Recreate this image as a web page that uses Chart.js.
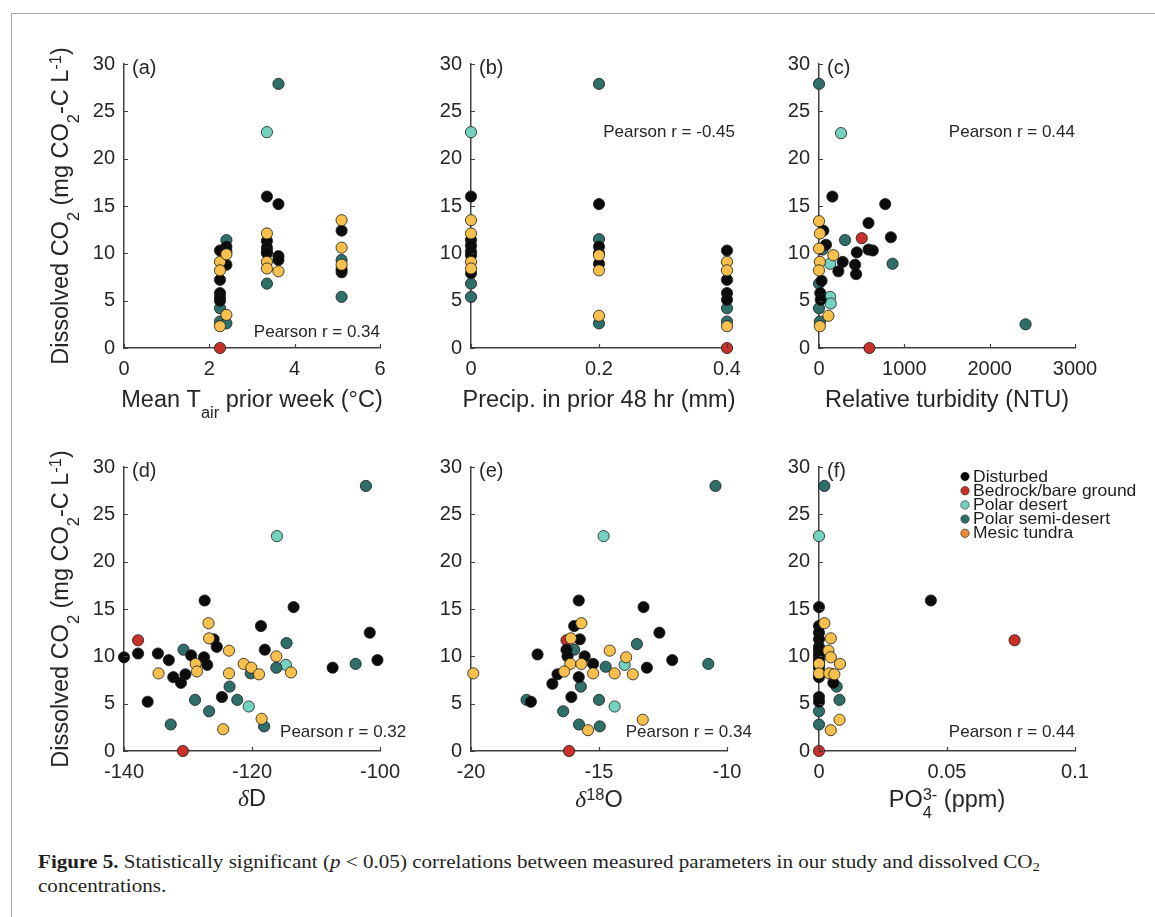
<!DOCTYPE html>
<html>
<head>
<meta charset="utf-8">
<script src="https://cdn.jsdelivr.net/npm/chart.js@4.4.1/dist/chart.umd.min.js"></script>
<style>
  html, body { margin: 0; padding: 0; background: #ffffff; }
  body { width: 1155px; height: 917px; position: relative; overflow: hidden; }
  #frame { position: absolute; left: 11px; top: 13px; width: 1150px; height: 910px;
           border-left: 1.5px solid #a8a8a8; border-top: 1.5px solid #a8a8a8; }
  canvas { position: absolute; }
  #caption { position: absolute; left: 38px; top: 850px; font-family: "Liberation Serif", "Times New Roman", serif;
             font-size: 18px; line-height: 24px; color: #231f20; white-space: nowrap; transform-origin: 0 0; }
  #caption sub { font-size: 0.7em; vertical-align: -0.25em; line-height: 0; }
</style>
</head>
<body>
<div id="frame"></div>
<div id="caption"><span id="cap1"><b>Figure 5.</b> Statistically significant (<i>p</i> &lt; 0.05) correlations between measured parameters in our study and dissolved CO<sub>2</sub></span><br><span>concentrations.</span></div>
<script>
// ---------------- DATA ----------------
const CATEGORIES = ['Disturbed', 'Bedrock/bare ground', 'Polar desert', 'Polar semi-desert', 'Mesic tundra'];
const Y_TICKS = [0, 5, 10, 15, 20, 25, 30];
const TAIR_TICKS = [0, 2, 4, 6];
const PRECIP_TICKS = [0, 0.2, 0.4];
const TURB_TICKS = [0, 1000, 2000, 3000];
const DD_TICKS = [-140, -120, -100];
const D18_TICKS = [-20, -15, -10];
const PO4_TICKS = [0, 0.05, 0.1];
const PEARSON_R = ['0.34', '-0.45', '0.44', '0.32', '0.34', '0.44'];

// (a) Mean air temperature prior week (°C) vs dissolved CO2
const tairDisturbed = [[2.25,10.3],[2.25,7.2],[2.25,5.8],[2.25,5.3],[2.25,5.0],[2.4,10.7],[2.4,10.2],[2.4,8.8],[3.35,16.0],[3.35,11.3],[3.35,10.6],[3.35,10.2],[3.35,10.0],[3.62,15.2],[3.62,9.7],[3.62,9.3],[5.1,12.4],[5.1,8.0],[5.1,8.3]];
const tairBedrock = [[2.25,0]];
const tairPolarDesert = [[3.35,22.8]];
const tairSemiDesert = [[2.4,11.4],[2.25,4.2],[2.25,2.8],[2.4,2.6],[3.35,6.8],[3.62,27.9],[5.1,9.3],[5.1,5.4]];
const tairMesic = [[2.25,9.1],[2.25,8.2],[2.25,2.3],[2.4,9.9],[2.4,3.5],[3.35,12.1],[3.35,9.1],[3.35,8.4],[3.62,8.1],[5.1,13.5],[5.1,10.6],[5.1,8.8]];

// (b) Precipitation in prior 48 hr (mm)
const precipDisturbed = [[0,16.0],[0,11.4],[0,10.8],[0,10.2],[0,9.8],[0,7.9],[0.2,15.2],[0.2,10.7],[0.2,10.0],[0.2,8.9],[0.4,10.3],[0.4,7.2],[0.4,5.8],[0.4,5.1]];
const precipBedrock = [[0.4,0]];
const precipPolarDesert = [[0,22.8]];
const precipSemiDesert = [[0,6.8],[0,5.4],[0.2,27.9],[0.2,11.5],[0.2,2.6],[0.4,4.2],[0.4,2.8]];
const precipMesic = [[0,13.5],[0,12.1],[0,9.1],[0,8.4],[0.2,9.8],[0.2,8.2],[0.2,3.4],[0.4,9.1],[0.4,8.2],[0.4,2.3]];

// (c) Relative turbidity (NTU)
const turbDisturbed = [[157,16.0],[776,15.2],[580,13.2],[842,11.7],[51,12.4],[82,10.9],[443,10.1],[580,10.4],[630,10.3],[278,9.1],[227,8.1],[423,8.8],[435,7.8],[30,7.1],[15,5.8],[20,5.1]];
const turbBedrock = [[501,11.6],[591,0]];
const turbPolarDesert = [[258,22.7],[130,8.9],[130,5.4],[137,4.7]];
const turbSemiDesert = [[0,27.9],[305,11.4],[862,8.9],[2421,2.5],[40,10.4],[0,6.8],[0,4.2],[10,2.8]];
const turbMesic = [[0,13.4],[10,12.1],[0,10.5],[168,9.8],[10,9.1],[0,8.2],[110,3.4],[10,2.3]];

// (d) δD
const dDDisturbed = [[-127.4,15.9],[-113.5,15.2],[-118.6,13.2],[-101.6,12.5],[-126.0,11.8],[-125.5,11.0],[-118.0,10.7],[-140,9.9],[-137.8,10.3],[-134.7,10.3],[-133.0,9.6],[-129.5,10.1],[-127.5,9.9],[-127.0,9.1],[-107.4,8.8],[-100.4,9.6],[-132.3,7.8],[-131.1,7.2],[-130.4,8.1],[-136.3,5.2],[-124.7,5.7]];
const dDBedrock = [[-137.8,11.7],[-130.8,0]];
const dDPolarDesert = [[-116.1,22.7],[-114.7,9.1],[-120.5,4.7]];
const dDSemiDesert = [[-102.2,28.0],[-114.6,11.4],[-130.7,10.7],[-120.2,8.2],[-116.2,8.8],[-103.8,9.2],[-128.9,5.4],[-126.7,4.2],[-123.5,6.8],[-122.3,5.4],[-132.7,2.8],[-118.1,2.6]];
const dDMesic = [[-126.8,13.5],[-126.7,11.9],[-123.6,10.6],[-128.8,9.2],[-128.6,8.4],[-121.3,9.2],[-120.1,8.8],[-118.9,8.1],[-116.2,10.0],[-113.9,8.3],[-134.6,8.2],[-124.5,2.3],[-118.5,3.4],[-123.6,8.2]];

// (e) δ18O
const d18Disturbed = [[-15.79,15.9],[-13.26,15.2],[-15.97,13.2],[-12.64,12.5],[-15.75,11.8],[-17.4,10.2],[-16.27,10.7],[-16.23,10.0],[-15.56,10.0],[-12.14,9.6],[-15.23,9.2],[-13.13,8.8],[-16.62,8.1],[-15.79,7.8],[-16.82,7.1],[-16.08,5.7],[-17.66,5.2]];
const d18Bedrock = [[-16.27,11.7],[-16.17,0]];
const d18PolarDesert = [[-14.82,22.7],[-14.0,9.1],[-14.39,4.7]];
const d18SemiDesert = [[-10.45,28.0],[-13.52,11.3],[-15.97,10.7],[-10.73,9.2],[-14.74,8.9],[-15.71,6.8],[-17.83,5.4],[-15.0,5.4],[-16.4,4.2],[-15.78,2.8],[-14.97,2.6]];
const d18Mesic = [[-15.69,13.5],[-16.1,11.9],[-14.58,10.6],[-13.94,9.9],[-16.12,9.2],[-15.69,9.2],[-16.36,8.4],[-15.23,8.2],[-14.39,8.2],[-13.68,8.1],[-19.91,8.2],[-13.29,3.3],[-15.43,2.2]];

// (f) PO4 3- (ppm)
const po4Disturbed = [[0,15.2],[0.0437,15.9],[0,13.2],[0,12.5],[0,11.8],[0,11.0],[0,10.7],[0,10.3],[0,10.0],[0,9.6],[0,9.2],[0,8.8],[0,7.8],[0,5.7],[0,5.2],[0.0056,7.2],[0.0052,8.1]];
const po4Bedrock = [[0.0764,11.7],[0,0]];
const po4PolarDesert = [[0,22.7]];
const po4SemiDesert = [[0.0021,28.0],[0.0069,6.8],[0.008,5.4],[0,4.2],[0,2.8]];
const po4Mesic = [[0.0021,13.5],[0.0046,11.9],[0.0037,10.6],[0.0046,9.9],[0,9.2],[0,8.2],[0.0082,9.2],[0.004,8.2],[0.006,8.1],[0.008,3.3],[0.0046,2.2]];

// ---------------- STYLE ----------------
const FONT = '"Liberation Sans", Arial, Helvetica, sans-serif';
const SERIF = '"Liberation Serif", "Times New Roman", serif';
const TEXT = '#262626';
const AXIS = '#404040';
const STYLE = {
  'Disturbed':           { fill: '#0b0b0b', legend: '#000000' },
  'Bedrock/bare ground': { fill: '#c8312a', legend: '#c8312a' },
  'Polar desert':        { fill: '#74d3c0', legend: '#74d3c0' },
  'Polar semi-desert':   { fill: '#2e6f6a', legend: '#2e6f6a' },
  'Mesic tundra':        { fill: '#f7bf4c', legend: '#ee8838' }
};
const DRAW_ORDER = ['Mesic tundra', 'Disturbed', 'Polar semi-desert', 'Polar desert', 'Bedrock/bare ground'];

const Y_TITLE = [{t:'Dissolved CO'},{t:'2',sub:1},{t:' (mg CO'},{t:'2',sub:1},{t:'-C L'},{t:'-1',sup:1},{t:')'}];

const PANELS = [
  { tag:'(a)', plotLeft:124, plotTop:64, xMin:0, xMax:6, xTicks:TAIR_TICKS,
    series:{'Disturbed':tairDisturbed,'Bedrock/bare ground':tairBedrock,'Polar desert':tairPolarDesert,'Polar semi-desert':tairSemiDesert,'Mesic tundra':tairMesic},
    pearson:{x:6, y:1.7, r:PEARSON_R[0]}, yTitle:true, titleDrop:59,
    xTitle:[{t:'Mean T'},{t:'air',sub:1},{t:' prior week (°C)'}] },
  { tag:'(b)', plotLeft:471, plotTop:64, xMin:0, xMax:0.4, xTicks:PRECIP_TICKS,
    series:{'Disturbed':precipDisturbed,'Bedrock/bare ground':precipBedrock,'Polar desert':precipPolarDesert,'Polar semi-desert':precipSemiDesert,'Mesic tundra':precipMesic},
    pearson:{x:0.4125, y:22.8, r:PEARSON_R[1]}, yTitle:false, titleDrop:59,
    xTitle:[{t:'Precip. in prior 48 hr (mm)'}] },
  { tag:'(c)', plotLeft:819, plotTop:64, xMin:0, xMax:3000, xTicks:TURB_TICKS,
    series:{'Disturbed':turbDisturbed,'Bedrock/bare ground':turbBedrock,'Polar desert':turbPolarDesert,'Polar semi-desert':turbSemiDesert,'Mesic tundra':turbMesic},
    pearson:{x:3000, y:22.8, r:PEARSON_R[2]}, yTitle:false, titleDrop:59,
    xTitle:[{t:'Relative turbidity (NTU)'}] },
  { tag:'(d)', plotLeft:124, plotTop:467, xMin:-140, xMax:-100, xTicks:DD_TICKS,
    series:{'Disturbed':dDDisturbed,'Bedrock/bare ground':dDBedrock,'Polar desert':dDPolarDesert,'Polar semi-desert':dDSemiDesert,'Mesic tundra':dDMesic},
    pearson:{x:-95.9, y:2.0, r:PEARSON_R[3]}, yTitle:true, titleDrop:55,
    xTitle:[{t:'δ',it:1,serif:1},{t:'D'}] },
  { tag:'(e)', plotLeft:471, plotTop:467, xMin:-20, xMax:-10, xTicks:D18_TICKS,
    series:{'Disturbed':d18Disturbed,'Bedrock/bare ground':d18Bedrock,'Polar desert':d18PolarDesert,'Polar semi-desert':d18SemiDesert,'Mesic tundra':d18Mesic},
    pearson:{x:-9.03, y:2.0, r:PEARSON_R[4]}, yTitle:false, titleDrop:56,
    xTitle:[{t:'δ',it:1,serif:1},{t:'18',sup:1},{t:'O'}] },
  { tag:'(f)', plotLeft:819, plotTop:467, xMin:0, xMax:0.1, xTicks:PO4_TICKS,
    series:{'Disturbed':po4Disturbed,'Bedrock/bare ground':po4Bedrock,'Polar desert':po4PolarDesert,'Polar semi-desert':po4SemiDesert,'Mesic tundra':po4Mesic},
    pearson:{x:0.1, y:2.0, r:PEARSON_R[5]}, yTitle:false, titleDrop:56, legend:true,
    xTitle:[{t:'PO'},{stack:['4','3-']},{t:' (ppm)'}] }
];

const PAD_L = 52, Y_W = 60, PLOT_W = 256, PAD_R = 90, PAD_T = 50, PLOT_H = 284, X_H = 76;
const CANVAS_W = PAD_L + Y_W + PLOT_W + PAD_R;
const CANVAS_H = PAD_T + PLOT_H + X_H;

// ---------------- RICH TEXT ----------------
function segFont(seg, size, small) {
  const s = small ? size * 0.7 : size;
  return (seg.it ? 'italic ' : '') + s + 'px ' + (seg.serif ? SERIF : FONT);
}
function segWidth(ctx, seg, size) {
  if (seg.stack) {
    ctx.font = segFont({}, size, true);
    return Math.max(ctx.measureText(seg.stack[0]).width, ctx.measureText(seg.stack[1]).width);
  }
  ctx.font = segFont(seg, size, seg.sub || seg.sup);
  return ctx.measureText(seg.t).width;
}
function drawRich(ctx, segs, cx, baseY, size, color) {
  const widths = segs.map(s => segWidth(ctx, s, size));
  const total = widths.reduce((a, b) => a + b, 0);
  let x = cx - total / 2;
  ctx.fillStyle = color;
  ctx.textAlign = 'left';
  ctx.textBaseline = 'alphabetic';
  const subDy = size * 0.45, supDy = -size * 0.3;
  segs.forEach((s, i) => {
    if (s.stack) {
      ctx.font = segFont({}, size, true);
      ctx.fillText(s.stack[0], x, baseY + subDy);
      ctx.fillText(s.stack[1], x, baseY + supDy);
    } else {
      ctx.font = segFont(s, size, s.sub || s.sup);
      ctx.fillText(s.t, x, baseY + (s.sub ? subDy : s.sup ? supDy : 0));
    }
    x += widths[i];
  });
}

// ---------------- DECOR PLUGIN ----------------
const decorPlugin = {
  id: 'decor',
  afterDraw(chart, args, o) {
    const ctx = chart.ctx;
    const area = chart.chartArea;
    const xs = chart.scales.x, ys = chart.scales.y;
    ctx.save();
    // inward tick marks
    ctx.strokeStyle = AXIS;
    ctx.lineWidth = 1.2;
    ctx.beginPath();
    xs.ticks.forEach(t => {
      const px = Math.round(xs.getPixelForValue(t.value)) + 0.5;
      ctx.moveTo(px, area.bottom); ctx.lineTo(px, area.bottom - 4);
    });
    ys.ticks.forEach(t => {
      const py = Math.round(ys.getPixelForValue(t.value)) + 0.5;
      ctx.moveTo(area.left, py); ctx.lineTo(area.left + 4, py);
    });
    ctx.stroke();
    // panel tag
    ctx.fillStyle = TEXT;
    ctx.font = '20px ' + FONT;
    ctx.textAlign = 'left';
    ctx.textBaseline = 'middle';
    ctx.fillText(o.tag, area.left + 8, area.top + 4);
    // Pearson annotation
    ctx.font = '17px ' + FONT;
    ctx.textAlign = 'right';
    ctx.fillText('Pearson r = ' + o.pearson.r, xs.getPixelForValue(o.pearson.x), ys.getPixelForValue(o.pearson.y));
    // x title
    drawRich(ctx, o.xTitle, (area.left + area.right) / 2, area.bottom + o.titleDrop, 23.5, TEXT);
    // y title
    if (o.yTitle) {
      ctx.save();
      ctx.translate(area.left - 56, (area.top + area.bottom) / 2);
      ctx.rotate(-Math.PI / 2);
      drawRich(ctx, Y_TITLE, 0, 0, 23.5, TEXT);
      ctx.restore();
    }
    // legend
    if (o.legend) {
      const mx = area.left + 146, tx = area.left + 154;
      CATEGORIES.forEach((name, i) => {
        const y = area.top + 9.5 + i * 14.2;
        ctx.beginPath();
        ctx.arc(mx, y, 4.2, 0, Math.PI * 2);
        ctx.fillStyle = STYLE[name].legend;
        ctx.fill();
        ctx.lineWidth = 0.6;
        ctx.strokeStyle = '#222';
        ctx.stroke();
        ctx.save();
        ctx.translate(tx, y + 0.5);
        ctx.scale(1.06, 1);
        ctx.fillStyle = '#1e1e1e';
        ctx.font = '16.5px ' + FONT;
        ctx.textAlign = 'left';
        ctx.textBaseline = 'middle';
        ctx.fillText(name, 0, 0);
        ctx.restore();
      });
    }
    ctx.restore();
  }
};

function fmt(v) { return String(Math.round(v * 1e6) / 1e6); }

// ---------------- BUILD ----------------
PANELS.forEach(p => {
  const cv = document.createElement('canvas');
  cv.width = CANVAS_W; cv.height = CANVAS_H;
  cv.style.left = (p.plotLeft - PAD_L - Y_W) + 'px';
  cv.style.top = (p.plotTop - PAD_T) + 'px';
  cv.style.width = CANVAS_W + 'px'; cv.style.height = CANVAS_H + 'px';
  document.body.appendChild(cv);
  const datasets = DRAW_ORDER.map(name => ({
    label: name,
    data: p.series[name].map(([x, y]) => ({ x, y })),
    backgroundColor: STYLE[name].fill,
    borderColor: '#1a1a1a',
    borderWidth: 0.8,
    pointRadius: 5.6,
    pointHoverRadius: 5.6,
    clip: false
  }));
  new Chart(cv, {
    type: 'scatter',
    data: { datasets },
    options: {
      responsive: false,
      animation: false,
      events: [],
      devicePixelRatio: 1,
      layout: { padding: { left: PAD_L, top: PAD_T, right: PAD_R, bottom: 0 } },
      scales: {
        x: {
          type: 'linear', position: 'bottom', min: p.xMin, max: p.xMax,
          afterBuildTicks: s => { s.ticks = p.xTicks.map(v => ({ value: v })); },
          afterFit: s => { s.height = X_H; },
          grid: { display: false, drawTicks: false },
          border: { display: true, color: AXIS, width: 1.5 },
          title: { display: false },
          ticks: { padding: 9, color: TEXT, font: { family: FONT, size: 20 }, maxRotation: 0, autoSkip: false, callback: v => fmt(v) }
        },
        y: {
          type: 'linear', position: 'left', min: 0, max: 30,
          afterBuildTicks: s => { s.ticks = Y_TICKS.map(v => ({ value: v })); },
          afterFit: s => { s.width = Y_W; },
          grid: { display: false, drawTicks: false },
          border: { display: true, color: AXIS, width: 1.5 },
          title: { display: false },
          ticks: { padding: 9, color: TEXT, font: { family: FONT, size: 20 }, autoSkip: false, callback: v => fmt(v) }
        }
      },
      plugins: {
        legend: { display: false },
        tooltip: { enabled: false },
        decor: { tag: p.tag, pearson: p.pearson, xTitle: p.xTitle, yTitle: p.yTitle, titleDrop: p.titleDrop, legend: !!p.legend }
      }
    },
    plugins: [decorPlugin]
  });
});

// stretch the caption horizontally to the reference line width (wider book face)
(function () {
  const cap1 = document.getElementById('cap1');
  const target = 1002;
  const w = cap1.getBoundingClientRect().width;
  const sx = target / w;
  document.getElementById('caption').style.transform = 'scale(' + sx.toFixed(4) + ',1)';
})();
</script>
</body>
</html>
